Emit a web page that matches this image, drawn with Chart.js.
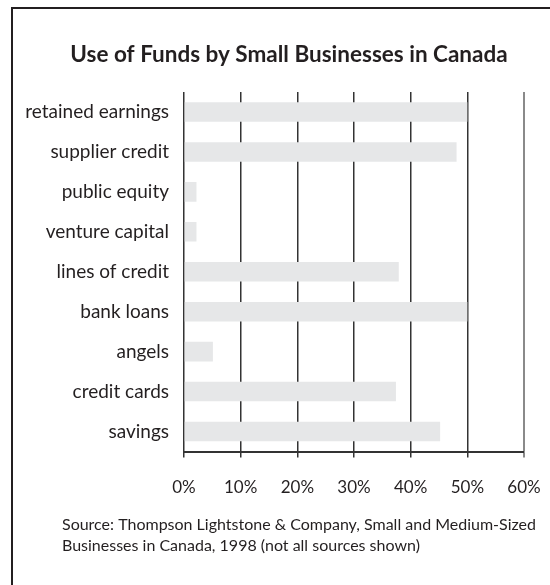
<!DOCTYPE html>
<html>
<head>
<meta charset="utf-8">
<script src="https://cdn.jsdelivr.net/npm/chart.js@4"></script>
<style>
  html, body { margin: 0; padding: 0; background: #fff; }
  #wrap { position: relative; width: 550px; height: 585px; overflow: hidden; }
  #frame {
    position: absolute; left: 11px; top: 7px; width: 600px; height: 600px;
    border-left: 2px solid #231f20; border-top: 2px solid #231f20;
  }
  #chart { position: absolute; left: 0; top: 0; }
</style>
</head>
<body>
<div id="wrap">
  <div id="frame"></div>
  <canvas id="chart" width="550" height="585"></canvas>
</div>
<script>
const categories = [
  "retained earnings", "supplier credit", "public equity", "venture capital",
  "lines of credit", "bank loans", "angels", "credit cards", "savings"
];
const shares = [50, 48.1, 2.2, 2.2, 37.9, 50, 5.1, 37.4, 45.2];
const tickValues = [0, 10, 20, 30, 40, 50, 60];
const titleText = "Use of Funds by Small Businesses in Canada";
const sourceLines = [
  "Source: Thompson Lightstone & Company, Small and Medium-Sized",
  "Businesses in Canada, 1998 (not all sources shown)"
];

const ink = "#231f20";
const fontFamily = "Lato, 'DejaVu Sans Condensed', sans-serif";

// title and source note are placed by hand, the layout only reserves room for them
const captions = {
  id: "captions",
  afterDraw(chart) {
    const c = chart.ctx;
    c.save();
    c.fillStyle = ink;
    c.textBaseline = "alphabetic";
    c.textAlign = "center";
    c.font = "bold 22.5px " + fontFamily;
    c.fillText(titleText, 289, 62);
    c.textAlign = "left";
    c.font = "16px " + fontFamily;
    sourceLines.forEach((line, i) => c.fillText(line, 62, 530 + i * 21));
    c.restore();
  }
};

const ctx = document.getElementById("chart").getContext("2d");

new Chart(ctx, {
  type: "bar",
  data: {
    labels: categories,
    datasets: [{
      label: "Use of funds",
      data: shares,
      backgroundColor: "#e6e7e8",
      borderWidth: 0,
      barPercentage: 0.49,
      categoryPercentage: 1
    }]
  },
  plugins: [captions],
  options: {
    indexAxis: "y",
    responsive: false,
    animation: false,
    layout: {
      padding: { left: 22, right: 26, top: 92, bottom: 67 }
    },
    plugins: {
      legend: { display: false },
      tooltip: { enabled: false },
      title: { display: false }
    },
    scales: {
      x: {
        type: "linear",
        min: 0,
        max: 60,
        afterBuildTicks: (scale) => {
          scale.ticks = tickValues.map(v => ({ value: v }));
        },
        grid: {
          color: (c) => (c.tick && c.tick.value === 60) ? "#8a8a8a" : "#333",
          lineWidth: (c) => (c.tick && c.tick.value === 60) ? 2 : 1.5,
          drawTicks: true,
          tickLength: 6
        },
        border: { display: true, color: "#333", width: 2 },
        ticks: {
          color: ink,
          padding: 9,
          // tall line box pushes the percent labels further below the axis
          font: { family: fontFamily, size: 17, lineHeight: 2.5 },
          callback: (v) => v + "%"
        }
      },
      y: {
        grid: { display: false },
        border: { display: false },
        afterFit: (scale) => { scale.width = 162; },
        ticks: {
          color: ink,
          padding: 7,
          font: { family: fontFamily, size: 19 }
        }
      }
    }
  }
});
</script>
</body>
</html>
